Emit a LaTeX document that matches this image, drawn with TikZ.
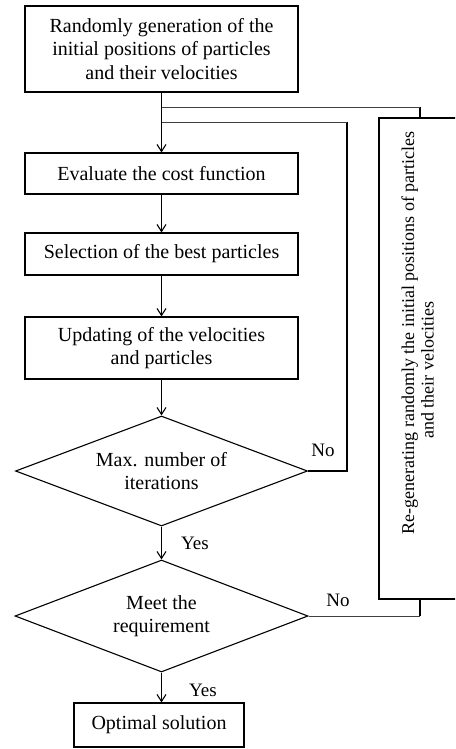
\documentclass[tikz,border=0pt]{standalone}
\usepackage{fontspec}
\setmainfont{Liberation Serif}
\usetikzlibrary{shapes.geometric,arrows.meta}
\begin{document}
\begin{tikzpicture}[x=1pt,y=-1pt,
  box/.style={draw,line width=1.1pt,inner sep=0pt,align=center,font=\fontsize{20}{23.5}\selectfont},
  dec/.style={draw,diamond,aspect=2.65,line width=1.1pt,inner sep=0pt,align=center,font=\fontsize{20}{23.5}\selectfont},
  arr/.style={line width=1.1pt,-{Straight Barb[length=7pt,width=9pt,line width=1.1pt]}},
  ln/.style={line width=1.1pt},
  thinln/.style={line width=0.8pt,black!75},
  lab/.style={font=\fontsize{19}{22}\selectfont,inner sep=0pt}]
\useasboundingbox (0,0) rectangle (455,749);
\begin{scope}
\clip (0,0) rectangle (455,749);
\node[box,minimum width=273pt,minimum height=86pt] (init) at (161.5,49) {Randomly generation of the\\initial positions of particles\\and their velocities};
\node[box,minimum width=273pt,minimum height=41pt] (eval) at (161.5,173.5) {Evaluate the cost function};
\node[box,minimum width=273pt,minimum height=42pt] (sel) at (161.5,254) {Selection of the best particles};
\node[box,minimum width=273pt,minimum height=62pt] (upd) at (161.5,348) {Updating of the velocities\\and particles};
\node[dec,minimum width=292pt,minimum height=110pt] (d1) at (161.5,471) {Max. number of\\iterations};
\node[dec,minimum width=293pt,minimum height=112pt] (d2) at (161.5,616) {Meet the\\requirement};
\node[box,minimum width=170pt,minimum height=44pt] (opt) at (159,725) {Optimal solution};
\node[draw,line width=1.1pt,inner sep=0pt,minimum width=82pt,minimum height=481pt] (regen) at (420,358.5) {};
\node[rotate=90,align=center,inner sep=0pt,font=\fontsize{18}{19.5}\selectfont] (regentxt) at (417.5,333) {Re-generating randomly the initial positions of particles\\and their velocities\hspace*{74pt}};

\coordinate (j1) at (161.5,107);
\coordinate (j2) at (161.5,122);
\coordinate (c1) at (347,0);

\draw[arr] (init) -- (eval);
\draw[arr] (eval) -- (sel);
\draw[arr] (sel) -- (upd);
\draw[arr] (upd) -- (d1);
\draw[arr] (d1) -- (d2);
\draw[arr] (d2.south) -- (d2.south |- opt.north);

\draw[ln] (regen.north) -- (regen.north |- j1);
\draw[thinln] (regen.north |- j1) -- (j1);
\draw[ln] (d1.east) -- (d1.east -| c1) -- (c1 |- j2);
\draw[thinln] (c1 |- j2) -- (j2);
\draw[thinln] (d2.east) -- (d2.east -| regen.south);
\draw[ln] (d2.east -| regen.south) -- (regen.south);

\node[lab] (no1) at (323,450) {No};
\node[lab] (yes1) at (195,543) {Yes};
\node[lab] (no2) at (338,600) {No};
\node[lab] (yes2) at (203,690) {Yes};
\end{scope}
\end{tikzpicture}
\end{document}
